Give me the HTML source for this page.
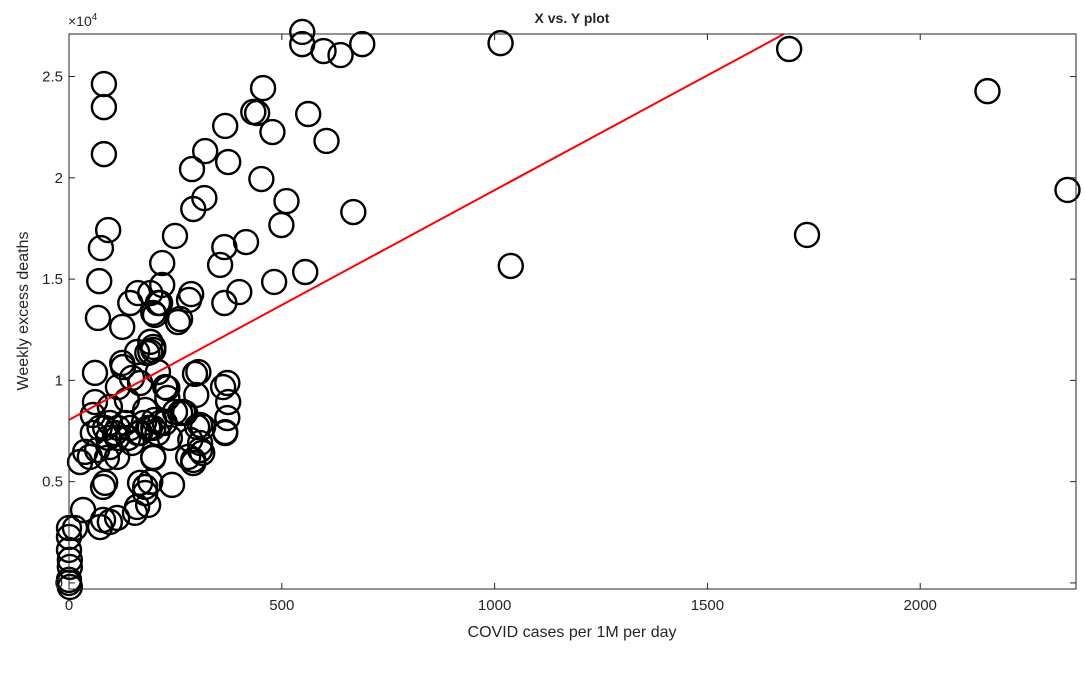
<!DOCTYPE html>
<html><head><meta charset="utf-8"><style>
body{margin:0;background:#fff;font-family:"Liberation Sans",Arial,sans-serif}
svg text{font-family:"Liberation Sans",Arial,sans-serif;fill:#262626}
</style></head><body>
<svg id="chart" width="1085" height="651" viewBox="0 0 1085 651" xmlns="http://www.w3.org/2000/svg">
<rect width="1085" height="651" fill="#fff"/>
<g id="marks"></g>
<g id="axes"></g>
</svg>
<script>
const xs = [548,548,598,638,689,1014,1692,2158,2346,1734,1038,82,82,82,92,75,71,68,61,
456,433,442,562,478,367,605,320,374,289,452,511,318,292,499,668,249,365,416,355,219,219,555,482,400,365,287,282,261,209,198,198,191,304,296,226,372,374,372,367,299,268,249,200,315,308,285,313,292,198,
162,144,191,214,125,202,256,191,198,184,160,125,127,209,148,115,167,231,61,136,96,56,179,231,261,362,308,273,
85,96,115,132,144,167,190,214,113,108,139,162,186,176,208,237,225,72,92,56,
38,26,49,66,96,148,113,89,198,280,308,292,367,198,301,
80,85,167,179,191,242,179,186,160,33,80,96,113,155,73,
0,14,0,0,2,2,0,2,0];
const ys = [27200,26600,26260,26060,26600,26650,26360,24280,19400,17180,15650,24630,23490,21170,17420,16530,14900,13080,10370,
24430,23250,23200,23150,22260,22560,21820,21320,20780,20430,19940,18850,19000,18460,17670,18310,17130,16580,16830,15700,15790,14710,15350,14860,14360,13820,14260,13970,13030,13820,13330,11650,11400,10410,10320,9670,9870,8930,8140,7450,9280,8440,8440,8040,7700,6910,7060,6420,6070,6220,
14310,13820,14310,13820,12640,13230,12880,11900,11500,11350,11400,10860,10660,10410,10120,9670,9870,9620,8930,9030,8690,8290,8540,9130,8390,9670,7800,8390,
7650,7900,7650,7900,7650,7400,7650,7900,7160,7400,7160,7400,7650,7900,7400,7160,7900,7650,7160,7400,
6470,5970,6220,6560,6710,6910,6220,6170,6170,6220,6560,5920,7400,7650,7700,
4740,4940,4940,4740,4990,4840,4440,3850,3750,3600,3110,3010,3210,3460,2760,
2710,2710,2270,1630,1140,790,150,-200,0];
const fitIntercept = 8050;
const fitSlope = 11.34;
const xTicks = [0,500,1000,1500,2000];
const xTickLabels = ["0","500","1000","1500","2000"];
const yTicks = [0,5000,10000,15000,20000,25000];
const yTickLabels = ["0","0.5","1","1.5","2","2.5"];

const L=69,R=1076,T=34,B=589;
const xMin=0,xMax=2366,yMin=-300,yMax=27100;
const sx=v=>L+(v-xMin)/(xMax-xMin)*(R-L);
const sy=v=>B-(v-yMin)/(yMax-yMin)*(B-T);
const NS="http://www.w3.org/2000/svg";
const marks=document.getElementById('marks'), axes=document.getElementById('axes');
function mk(tag,attrs,parent){const e=document.createElementNS(NS,tag);for(const k in attrs)e.setAttribute(k,attrs[k]);parent.appendChild(e);return e;}

for(let i=0;i<xs.length;i++){
  const c=mk('circle',{cx:sx(xs[i]),cy:sy(ys[i]),r:12,fill:'none',stroke:'#000','stroke-width':2.4},marks);
  
  
}
// fit line
const xEnd=Math.min(xMax,(yMax-fitIntercept)/fitSlope);
const ln=mk('line',{x1:sx(0),y1:sy(fitIntercept),x2:sx(xEnd),y2:sy(fitIntercept+fitSlope*xEnd),stroke:'#ff0000','stroke-width':2},marks);



const box=mk('rect',{x:L,y:T,width:R-L,height:B-T,fill:'none',stroke:'#262626','stroke-width':1},axes);



xTicks.forEach((t,i)=>{
  const x=sx(t);
  mk('line',{x1:x,y1:B,x2:x,y2:B-6,stroke:'#262626'},axes);
  mk('line',{x1:x,y1:T,x2:x,y2:T+6,stroke:'#262626'},axes);
  const tx=mk('text',{x:x,y:B+21,'text-anchor':'middle','font-size':15},axes);
  tx.textContent=xTickLabels[i];
  
  
});
yTicks.forEach((t,i)=>{
  const y=sy(t);
  mk('line',{x1:L,y1:y,x2:L+6,y2:y,stroke:'#262626'},axes);
  mk('line',{x1:R,y1:y,x2:R-6,y2:y,stroke:'#262626'},axes);
  const tx=mk('text',{x:L-6,y:y+5,'text-anchor':'end','font-size':15},axes);
  tx.textContent=yTickLabels[i];
  
  
});
</script>
<svg width="0" height="0"></svg>
<div style="position:absolute;left:0;top:0;width:1085px;height:651px;pointer-events:none">
<svg width="1085" height="651" xmlns="http://www.w3.org/2000/svg">
<text x="68" y="26" font-size="14" fill="#262626" font-family="Liberation Sans, sans-serif">×10<tspan font-size="10" dy="-6">4</tspan></text>
<text x="572" y="23" font-size="14" font-weight="bold" text-anchor="middle" fill="#000" font-family="Liberation Sans, sans-serif">X vs. Y plot</text>
<text x="572" y="637" font-size="16" text-anchor="middle" fill="#262626" font-family="Liberation Sans, sans-serif">COVID cases per 1M per day</text>
<text x="28" y="311" font-size="16" text-anchor="middle" fill="#262626" font-family="Liberation Sans, sans-serif" transform="rotate(-90 28 311)">Weekly excess deaths</text>
</svg></div>
</body></html>
